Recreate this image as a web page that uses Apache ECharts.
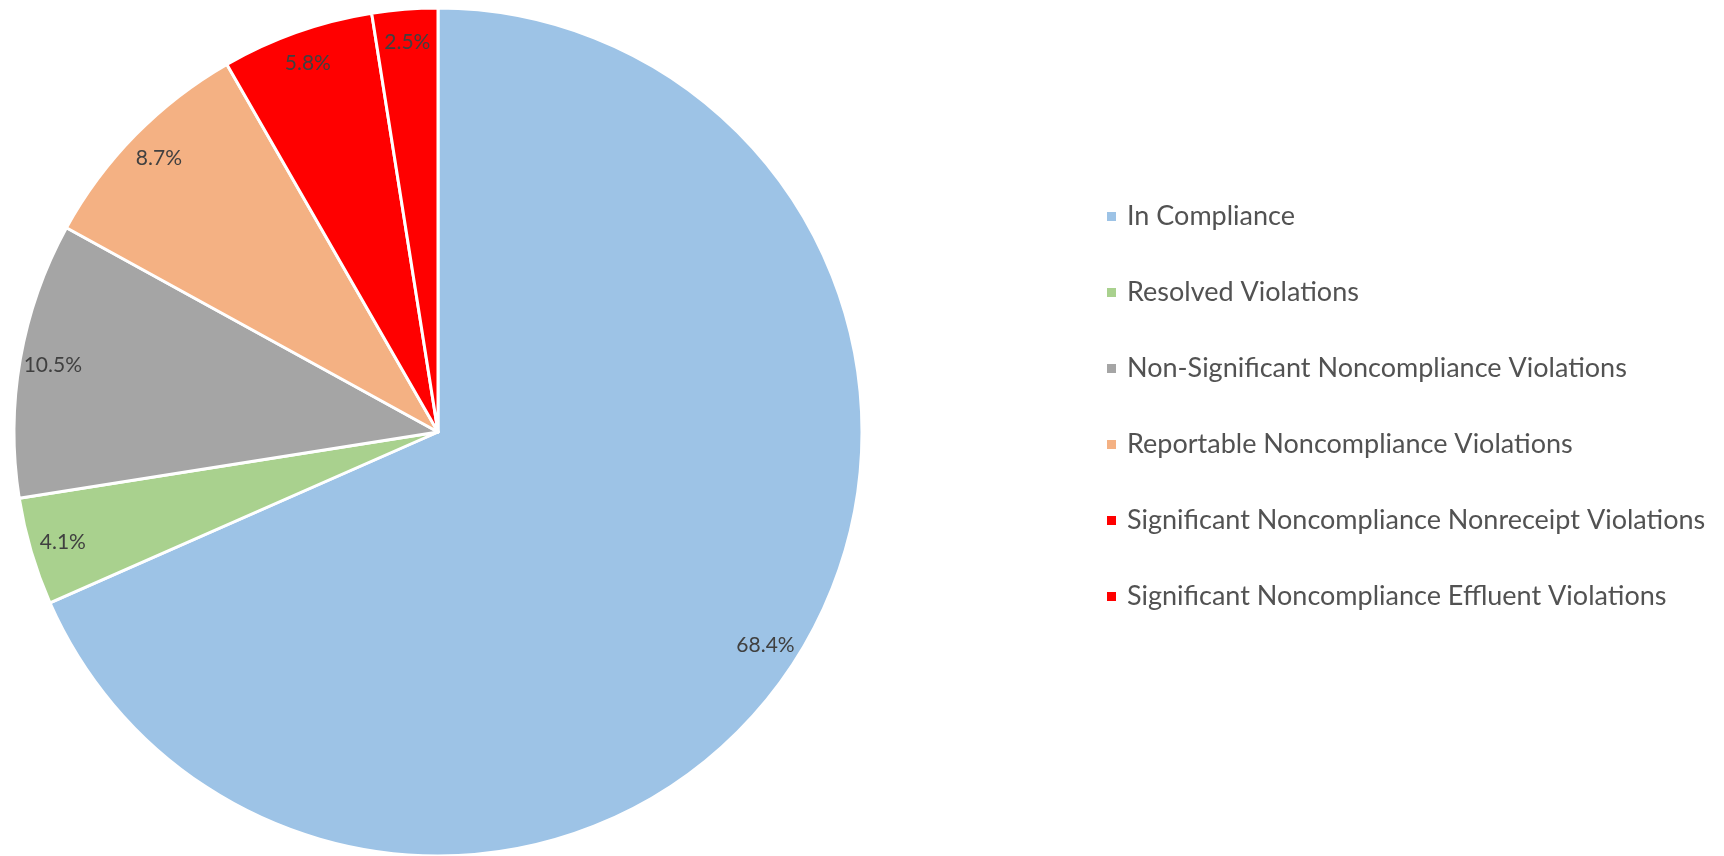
<!DOCTYPE html>
<html>
<head>
<meta charset="utf-8">
<script src="https://cdn.jsdelivr.net/npm/echarts@6/dist/echarts.min.js"></script>
<style>
  html, body { margin: 0; padding: 0; background: #fff; }
  #chart { width: 1724px; height: 856px; }
</style>
</head>
<body>
<div id="chart"></div>
<script>
var categories = [
    'In Compliance',
    'Resolved Violations',
    'Non-Significant Noncompliance Violations',
    'Reportable Noncompliance Violations',
    'Significant Noncompliance Nonreceipt Violations',
    'Significant Noncompliance Effluent Violations'
];
var shares = [68.4, 4.1, 10.5, 8.7, 5.8, 2.5];
var colors = ['#9DC3E6', '#A9D18E', '#A5A5A5', '#F4B183', '#FF0000', '#FF0000'];

var pieData = categories.map(function (name, i) {
    return {value: shares[i], name: name, itemStyle: {color: colors[i]}};
});

var chart = echarts.init(document.getElementById('chart'));
var option = {
    animation: false,
    legend: {
        orient: 'vertical',
        left: 1105,
        top: 203,
        padding: 0,
        itemWidth: 11,
        itemHeight: 11,
        itemGap: 49,
        icon: 'rect',
        data: categories,
        textStyle: {
            fontFamily: 'Lato',
            fontSize: 27,
            lineHeight: 27,
            color: '#525252',
            padding: [0, 0, 0, 5]
        }
    },
    series: [
        {
            name: 'Share',
            type: 'pie',
            center: [438, 432],
            radius: [0, 424],
            startAngle: 90,
            clockwise: true,
            label: {show: false},
            labelLine: {show: false},
            itemStyle: {borderColor: '#fff', borderWidth: 3},
            data: pieData
        },
        {
            // transparent ring only used to place the labels near the rim
            name: 'Labels',
            type: 'pie',
            silent: true,
            center: [438, 432],
            radius: [352, 424],
            startAngle: 90,
            clockwise: true,
            itemStyle: {color: 'rgba(0,0,0,0)', borderWidth: 0},
            label: {
                show: true,
                position: 'inside',
                formatter: function (p) { return p.value.toFixed(1) + '%'; },
                fontFamily: 'Lato',
                fontSize: 21,
                color: '#404040'
            },
            labelLine: {show: false},
            data: categories.map(function (name, i) {
                return {value: shares[i], name: name};
            })
        }
    ]
};
chart.setOption(option);
</script>
</body>
</html>
